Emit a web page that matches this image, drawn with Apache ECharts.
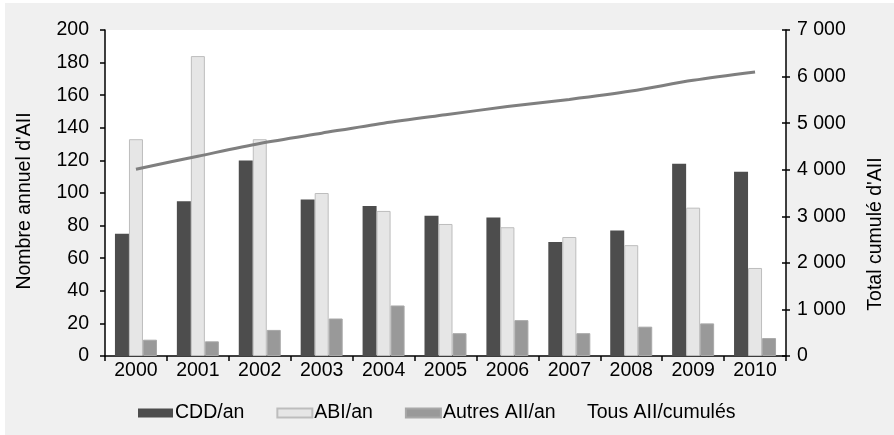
<!DOCTYPE html>
<html>
<head>
<meta charset="utf-8">
<script src="https://cdn.jsdelivr.net/npm/echarts@6/dist/echarts.min.js"></script>
<style>
html,body{margin:0;padding:0;background:#ffffff;}
#chart{width:894px;height:435px;}
</style>
</head>
<body>
<div id="chart"></div>
<script>
var years = ['2000','2001','2002','2003','2004','2005','2006','2007','2008','2009','2010'];
var cddPerYear = [75, 95, 120, 96, 92, 86, 85, 70, 77, 118, 113];
var abiPerYear = [133, 184, 133, 100, 89, 81, 79, 73, 68, 91, 54];
var autresPerYear = [10, 9, 16, 23, 31, 14, 22, 14, 18, 20, 11];
var tousCumules = [4010, 4290, 4565, 4785, 5000, 5180, 5355, 5510, 5690, 5920, 6100];

var FONT = '"Liberation Sans", Arial, sans-serif';
var FS = 19.5;
var chart = echarts.init(document.getElementById('chart'), null, {renderer:'canvas'});

function fmtThousands(v){
  return String(v).replace(/\B(?=(\d{3})+(?!\d))/g, ' ');
}

chart.setOption({
  backgroundColor: '#ffffff',
  animation: false,
  textStyle: {fontFamily: FONT},
  graphic: [{
    type: 'rect', z: -10, silent: true,
    shape: {x: 5, y: 3, width: 889, height: 432},
    style: {fill: '#f0f0f0'}
  }],
  grid: {
    left: 105, right: 108, top: 30, bottom: 79,
    show: true, backgroundColor: '#ffffff', borderWidth: 0
  },
  legend: [{
    data: ['CDD/an', 'ABI/an', 'Autres AII/an'],
    left: 133, top: 398,
    itemWidth: 35, itemHeight: 9, itemGap: 32,
    icon: 'rect',
    textStyle: {fontFamily: FONT, fontSize: FS, color: '#000', padding: [0,0,0,-3]}
  },{
    data: [{name: 'Tous AII/cumulés', itemStyle: {opacity: 0}, lineStyle: {opacity: 0}}],
    left: 577, top: 398,
    itemWidth: 0, itemHeight: 9,
    icon: 'rect',
    textStyle: {fontFamily: FONT, fontSize: FS, color: '#000'}
  }],
  xAxis: {
    type: 'category',
    data: years,
    axisLine: {lineStyle: {color: '#000', width: 1.5}},
    axisTick: {show: true, length: 5, lineStyle: {color: '#000', width: 1.5}},
    axisLabel: {fontFamily: FONT, fontSize: FS, color: '#000', margin: 5},
    splitLine: {show: false}
  },
  yAxis: [{
    type: 'value', min: 0, max: 200, interval: 20,
    name: "Nombre annuel d'AII", nameLocation: 'middle', nameGap: 70,
    nameTextStyle: {fontFamily: FONT, fontSize: FS, color: '#000', padding: [0,16,0,0]},
    axisLine: {show: true, lineStyle: {color: '#000', width: 1.5}},
    axisTick: {show: true, length: 5, lineStyle: {color: '#000', width: 1.5}},
    axisLabel: {fontFamily: FONT, fontSize: FS, color: '#000', margin: 16},
    splitLine: {show: false}
  },{
    type: 'value', min: 0, max: 7000, interval: 1000, position: 'right',
    name: "Total cumulé d'AII", nameLocation: 'middle', nameGap: 80,
    nameTextStyle: {fontFamily: FONT, fontSize: FS, color: '#000', padding: [0,82,0,0]},
    axisLine: {show: true, lineStyle: {color: '#000', width: 1.5}},
    axisTick: {show: true, length: 4, lineStyle: {color: '#000', width: 1.5}},
    axisLabel: {fontFamily: FONT, fontSize: FS, color: '#000', margin: 11, formatter: fmtThousands},
    splitLine: {show: false}
  },{
    type: 'value', min: 0, max: 7000, interval: 1000, position: 'right', offset: 0,
    axisLine: {show: false},
    axisTick: {show: true, inside: true, length: 4, lineStyle: {color: '#000', width: 1.5}},
    axisLabel: {show: false},
    splitLine: {show: false}
  }],
  series: [{
    name: 'CDD/an', type: 'bar', data: cddPerYear,
    barWidth: 14, barGap: '0%',
    itemStyle: {color: '#4d4d4d'}
  },{
    name: 'ABI/an', type: 'bar', data: abiPerYear,
    barWidth: 14,
    itemStyle: {color: '#e6e6e6', borderColor: '#bdbdbd', borderWidth: 1}
  },{
    name: 'Autres AII/an', type: 'bar', data: autresPerYear,
    barWidth: 14,
    itemStyle: {color: '#999999', borderColor: '#a8a8a8', borderWidth: 1}
  },{
    name: 'Tous AII/cumulés', type: 'line', yAxisIndex: 1, data: tousCumules,
    smooth: 0.3, showSymbol: false, symbol: 'none',
    lineStyle: {color: '#7f7f7f', width: 3},
    itemStyle: {color: '#7f7f7f'}
  }]
});
</script>
</body>
</html>
